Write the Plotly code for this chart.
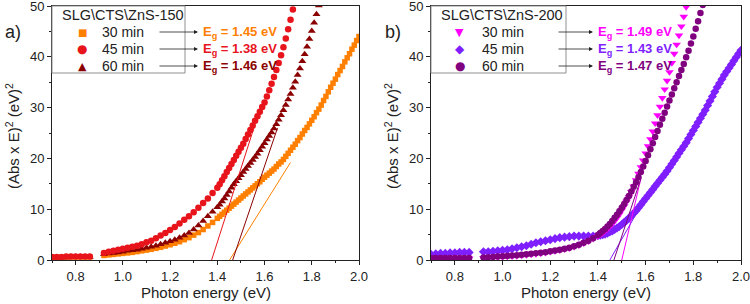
import plotly.graph_objects as go

# ---------------- data ----------------
E_LOWMID = [0.70, 0.72, 0.74, 0.76, 0.78, 0.80, 0.82, 0.84, 0.86,
            0.92, 0.94, 0.96, 0.98, 1.00, 1.02, 1.04, 1.06, 1.08, 1.10, 1.12, 1.14,
            1.16, 1.18, 1.20, 1.22, 1.24, 1.26, 1.28, 1.30, 1.32, 1.34, 1.36, 1.38, 1.40]
E_HIGH = [1.41, 1.42, 1.43, 1.44, 1.45, 1.46, 1.47, 1.48, 1.49, 1.50,
          1.51, 1.52, 1.53, 1.54, 1.55, 1.56, 1.57, 1.58, 1.59, 1.60,
          1.61, 1.62, 1.63, 1.64, 1.65, 1.66, 1.67, 1.68, 1.69, 1.70,
          1.71, 1.72, 1.73, 1.74, 1.75, 1.76, 1.77, 1.78, 1.79, 1.80,
          1.81, 1.82, 1.83, 1.84, 1.85, 1.86, 1.87, 1.88, 1.89, 1.90,
          1.91, 1.92, 1.93, 1.94, 1.95, 1.96, 1.97, 1.98, 1.99, 2.00]

# panel a) SLG\CTS\ZnS-150
A30_LM = [0.5, 0.5, 0.5, 0.6, 0.6, 0.6, 0.6, 0.6, 0.6,
          0.9, 1.0, 1.1, 1.2, 1.3, 1.4, 1.5, 1.65, 1.8, 1.95, 2.1, 2.3, 2.5, 2.75, 3.0,
          3.3, 3.6, 4.0, 4.4, 4.9, 5.4, 6.0, 6.7, 7.4, 8.2]
A30_H = [8.6, 9.0, 9.4, 9.8, 10.2, 10.6, 11.0, 11.4, 11.8, 12.2,
         12.6, 13.0, 13.4, 13.8, 14.2, 14.6, 15.0, 15.4, 15.9, 16.3,
         16.7, 17.1, 17.5, 17.9, 18.4, 18.9, 19.3, 19.8, 20.4, 21.0,
         21.6, 22.2, 22.8, 23.5, 24.1, 24.8, 25.5, 26.1, 26.8, 27.5,
         28.2, 29.0, 29.7, 30.5, 31.4, 32.2, 33.1, 34.0, 34.8, 35.6,
         36.5, 37.3, 38.1, 39.0, 39.8, 40.6, 41.5, 42.3, 43.2, 44.0]
A45_LM = [0.6, 0.6, 0.6, 0.7, 0.7, 0.7, 0.7, 0.7, 0.7,
          1.4, 1.6, 1.8, 2.0, 2.2, 2.4, 2.6, 2.8, 3.1, 3.5, 3.8, 4.3, 4.8, 5.3, 5.9,
          6.5, 7.2, 7.9, 8.6, 9.4, 10.3, 11.2, 12.1, 13.2, 14.2]
A45_H = [14.9, 15.7, 16.5, 17.3, 18.1, 18.9, 19.7, 20.5, 21.3, 22.1,
         22.9, 23.8, 24.7, 25.6, 26.5, 27.4, 28.3, 29.2, 30.1, 31.0,
         32.2, 33.4, 34.7, 36.0, 37.4, 38.8, 40.3, 41.9, 43.6, 45.4,
         47.3, 49.3, 51.3]
A60_LM = [0.5, 0.5, 0.5, 0.5, 0.6, 0.6, 0.6, 0.6, 0.6,
          1.2, 1.3, 1.4, 1.5, 1.6, 1.8, 1.9, 2.0, 2.2, 2.4, 2.6, 2.8, 3.1, 3.4, 3.7,
          4.0, 4.4, 4.8, 5.3, 6.0, 6.8, 7.7, 8.6, 9.5, 10.4]
A60_H = [10.9, 11.5, 12.1, 12.8, 13.5, 14.2, 14.9, 15.5, 16.1, 16.7,
         17.3, 17.9, 18.5, 19.1, 19.7, 20.3, 20.9, 21.6, 22.3, 23.0,
         23.7, 24.4, 25.1, 25.9, 26.7, 27.6, 28.5, 29.5, 30.5, 31.6,
         32.7, 33.9, 35.1, 36.4, 37.7, 39.1, 40.5, 42.0, 43.5, 45.1,
         46.7, 48.4, 50.1]

# panel b) SLG\CTS\ZnS-200
B30_LM = [0.3, 0.3, 0.3, 0.3, 0.3, 0.3, 0.3, 0.3, 0.3,
          0.4, 0.45, 0.5, 0.55, 0.6, 0.7, 0.75, 0.8, 0.9, 1.0, 1.1, 1.2, 1.3, 1.45, 1.6,
          1.75, 1.9, 2.1, 2.3, 2.6, 2.9, 3.3, 3.7, 4.2, 4.7]
B30_H = [5.0, 5.3, 5.7, 6.1, 6.6, 7.1, 7.7, 8.3, 9.0, 9.8,
         10.6, 11.5, 12.4, 13.4, 14.5, 15.7, 17.0, 18.3, 19.6, 21.0,
         22.4, 23.8, 25.3, 26.9, 28.5, 30.2, 31.9, 33.6, 35.3, 37.0,
         38.8, 40.6, 42.4, 44.2, 46.0, 47.9, 49.8, 51.7]
B45_LM = [1.1, 1.2, 1.3, 1.3, 1.4, 1.4, 1.5, 1.5, 1.5,
          1.6, 1.6, 1.7, 1.8, 1.9, 2.0, 2.2, 2.4, 2.6, 2.8, 3.1, 3.4, 3.6, 3.8, 4.0,
          4.2, 4.4, 4.5, 4.6, 4.7, 4.7, 4.7, 4.7, 4.7, 4.8]
B45_H = [4.9, 5.0, 5.1, 5.3, 5.5, 5.7, 6.0, 6.3, 6.6, 7.0,
         7.4, 7.8, 8.2, 8.7, 9.2, 9.7, 10.3, 10.9, 11.5, 12.1,
         12.7, 13.3, 13.9, 14.5, 15.1, 15.7, 16.3, 16.9, 17.5, 18.2,
         18.9, 19.6, 20.3, 21.0, 21.7, 22.4, 23.1, 23.9, 24.7, 25.5,
         26.3, 27.1, 27.9, 28.7, 29.5, 30.4, 31.3, 32.2, 33.1, 34.0,
         34.8, 35.6, 36.4, 37.1, 37.8, 38.5, 39.2, 39.9, 40.6, 41.3]
B60_LM = [0.4, 0.4, 0.4, 0.4, 0.4, 0.4, 0.4, 0.4, 0.4,
          0.5, 0.55, 0.6, 0.7, 0.75, 0.8, 0.9, 0.95, 1.05, 1.15, 1.25, 1.35, 1.45, 1.55, 1.7,
          1.85, 2.0, 2.2, 2.4, 2.7, 3.0, 3.4, 3.8, 4.3, 4.9]
B60_H = [5.3, 5.7, 6.1, 6.6, 7.1, 7.7, 8.3, 8.9, 9.6, 10.3,
         11.0, 11.8, 12.6, 13.5, 14.4, 15.3, 16.3, 17.3, 18.4, 19.5,
         20.6, 21.8, 23.0, 24.2, 25.4, 26.6, 27.8, 29.0, 30.2, 31.4,
         32.6, 33.8, 35.0, 36.2, 37.4, 38.6, 39.9, 41.2, 42.6, 44.0,
         45.5, 47.0, 48.6, 50.2]

TIMES = ["30 min", "45 min", "60 min"]
TITLE_A = "SLG\\CTS\\ZnS-150"
TITLE_B = "SLG\\CTS\\ZnS-200"
EG_A = ["1.45", "1.38", "1.46"]
EG_B = ["1.49", "1.43", "1.47"]
# Tauc linear fits (x-intercept, end point)
FIT_A_X0 = [1.452, 1.376, 1.465]
FIT_A_X1 = [1.71, 1.555, 1.655]
FIT_A_Y1 = [19.2, 26.0, 26.0]
FIT_B_X0 = [1.500, 1.450, 1.467]
FIT_B_X1 = [1.58, 1.59, 1.58]
FIT_B_Y1 = [16.0, 11.5, 16.0]

# ---------------- style ----------------
COL_A = ["#FF8000", "#E8141C", "#8B0000"]
COL_B = ["#FF00FF", "#7F1FFF", "#800080"]
SYM_A = ["square", "circle", "triangle-up"]
SYM_B = ["triangle-down", "diamond", "circle"]
SIZE_A = [5.5, 6.5, 7]
SIZE_B = [7.5, 7, 6.5]
GLYPH_A = ["\u25A0", "\u25CF", "\u25B2"]
GLYPH_B = ["\u25BC", "\u25C6", "\u25CF"]
GLYPH_SIZE_A = [10, 12, 11]
GLYPH_SIZE_B = [11, 12, 12]

FONT = "Liberation Sans, Arial, sans-serif"
TXT = "#222"
W, H = 750, 304
TOP, BOT = 6, 44

series_a = [(A30_LM, A30_H), (A45_LM, A45_H), (A60_LM, A60_H)]
series_b = [(B30_LM, B30_H), (B45_LM, B45_H), (B60_LM, B60_H)]

fig = go.Figure()


def add_panel(series, cols, syms, sizes, x0s, x1s, y1s, xa, ya, order):
    for i in order:
        lm, hi = series[i]
        xs = E_LOWMID + E_HIGH[:len(hi)]
        ys = lm + hi
        fig.add_trace(go.Scatter(
            x=xs, y=ys, mode="markers", name=TIMES[i], showlegend=False,
            marker=dict(symbol=syms[i], size=sizes[i], color=cols[i], line=dict(width=0)),
            xaxis=xa, yaxis=ya))
    for i in range(3):
        fig.add_trace(go.Scatter(
            x=[x0s[i], x1s[i]], y=[0, y1s[i]], mode="lines",
            line=dict(color=cols[i], width=1), showlegend=False,
            xaxis=xa, yaxis=ya))


add_panel(series_a, COL_A, SYM_A, SIZE_A, FIT_A_X0, FIT_A_X1, FIT_A_Y1, "x", "y", [0, 2, 1])
add_panel(series_b, COL_B, SYM_B, SIZE_B, FIT_B_X0, FIT_B_X1, FIT_B_Y1, "x2", "y2", [1, 0, 2])

dom_a = [52 / W, 359 / W]
dom_b = [431 / W, 741 / W]

xax = dict(range=[0.7, 2.0], dtick=0.2, tick0=0, tickformat=".1f",
           showline=True, linecolor=TXT, linewidth=1, mirror=True,
           ticks="outside", ticklen=4, tickcolor=TXT,
           minor=dict(dtick=0.1, ticks="outside", ticklen=2, tickcolor=TXT),
           showgrid=False, zeroline=False, ticklabeloverflow="allow",
           automargin=False,
           tickfont=dict(family=FONT, size=13, color=TXT))
yax = dict(range=[0, 50], dtick=10,
           showline=True, linecolor=TXT, linewidth=1, mirror=True,
           ticks="outside", ticklen=4, tickcolor=TXT,
           minor=dict(dtick=5, ticks="outside", ticklen=2, tickcolor=TXT),
           showgrid=False, zeroline=False, ticklabeloverflow="allow",
           automargin=False,
           tickfont=dict(family=FONT, size=13, color=TXT))

fig.update_layout(
    width=W, height=H,
    margin=dict(l=0, r=0, t=TOP, b=BOT),
    paper_bgcolor="white", plot_bgcolor="white",
    font=dict(family=FONT, color=TXT),
    showlegend=False,
    xaxis=dict(domain=dom_a, anchor="y", **xax),
    yaxis=dict(domain=[0, 1], anchor="x", **yax),
    xaxis2=dict(domain=dom_b, anchor="y2", **xax),
    yaxis2=dict(domain=[0, 1], anchor="x2", **yax),
)

plot_h = H - TOP - BOT


def yf(pix):
    """page pixel row -> paper y"""
    return (H - BOT - pix) / plot_h


ann = []
shapes = []
rows = [32, 49, 66]
panels = [
    dict(box=(52, 185), title=TITLE_A, title_x=123, glyph_x=82, text_x=100,
         tail=158, head=198, eg_x=201, egs=EG_A, cols=COL_A,
         glyphs=GLYPH_A, gsz=GLYPH_SIZE_A),
    dict(box=(431, 566), title=TITLE_B, title_x=502, glyph_x=460, text_x=480,
         tail=557, head=593, eg_x=596, egs=EG_B, cols=COL_B,
         glyphs=GLYPH_B, gsz=GLYPH_SIZE_B),
]
for p in panels:
    x0, x1 = p["box"]
    shapes.append(dict(type="rect", xref="paper", yref="paper",
                       x0=x0 / W, x1=x1 / W, y0=yf(73), y1=yf(TOP),
                       line=dict(color="#909090", width=1), fillcolor="white",
                       layer="above"))
    ann.append(dict(xref="paper", yref="paper", x=p["title_x"] / W, y=yf(15),
                    xanchor="center", yanchor="middle", showarrow=False,
                    text=p["title"], font=dict(family=FONT, size=14.5, color=TXT)))
    for r, t, g, gs, eg, c in zip(rows, TIMES, p["glyphs"], p["gsz"], p["egs"], p["cols"]):
        ann.append(dict(xref="paper", yref="paper", x=p["glyph_x"] / W, y=yf(r),
                        xanchor="center", yanchor="middle", showarrow=False,
                        text=g, font=dict(family="DejaVu Sans", size=gs, color=c)))
        ann.append(dict(xref="paper", yref="paper", x=p["text_x"] / W, y=yf(r),
                        xanchor="left", yanchor="middle", showarrow=False,
                        text=t, font=dict(family=FONT, size=14, color=TXT)))
        ann.append(dict(xref="paper", yref="paper", x=p["head"] / W, y=yf(r),
                        ax=p["tail"] - p["head"], ay=0, axref="pixel", ayref="pixel",
                        text="", showarrow=True, arrowhead=2, arrowsize=1,
                        arrowwidth=0.8, arrowcolor=TXT))
        ann.append(dict(xref="paper", yref="paper", x=p["eg_x"] / W, y=yf(r),
                        xanchor="left", yanchor="middle", showarrow=False,
                        text="<b>E<sub>g</sub> = " + eg + " eV</b>",
                        font=dict(family=FONT, size=13, color=c)))

# panel letters
for cx, lab in [(3, "a)"), (383, "b)")]:
    ann.append(dict(xref="paper", yref="paper", x=cx / W, y=yf(32), xanchor="left",
                    yanchor="middle", showarrow=False, text=lab,
                    font=dict(family=FONT, size=18, color=TXT)))
# axis titles
for cx in [12, 391]:
    ann.append(dict(xref="paper", yref="paper", x=cx / W, y=yf(136),
                    xanchor="center", yanchor="middle", showarrow=False, textangle=-90,
                    text="(Abs x E)<sup>2</sup> (eV)<sup>2</sup>",
                    font=dict(family=FONT, size=15, color=TXT)))
for cx in [(52 + 359) / 2, (431 + 741) / 2]:
    ann.append(dict(xref="paper", yref="paper", x=cx / W, y=yf(292),
                    xanchor="center", yanchor="middle", showarrow=False,
                    text="Photon energy (eV)",
                    font=dict(family=FONT, size=15, color=TXT)))
fig.update_layout(annotations=ann, shapes=shapes)

fig.write_html("out.html", config={"displayModeBar": False},
               post_script="document.body.style.margin='0';document.body.style.padding='0';")
